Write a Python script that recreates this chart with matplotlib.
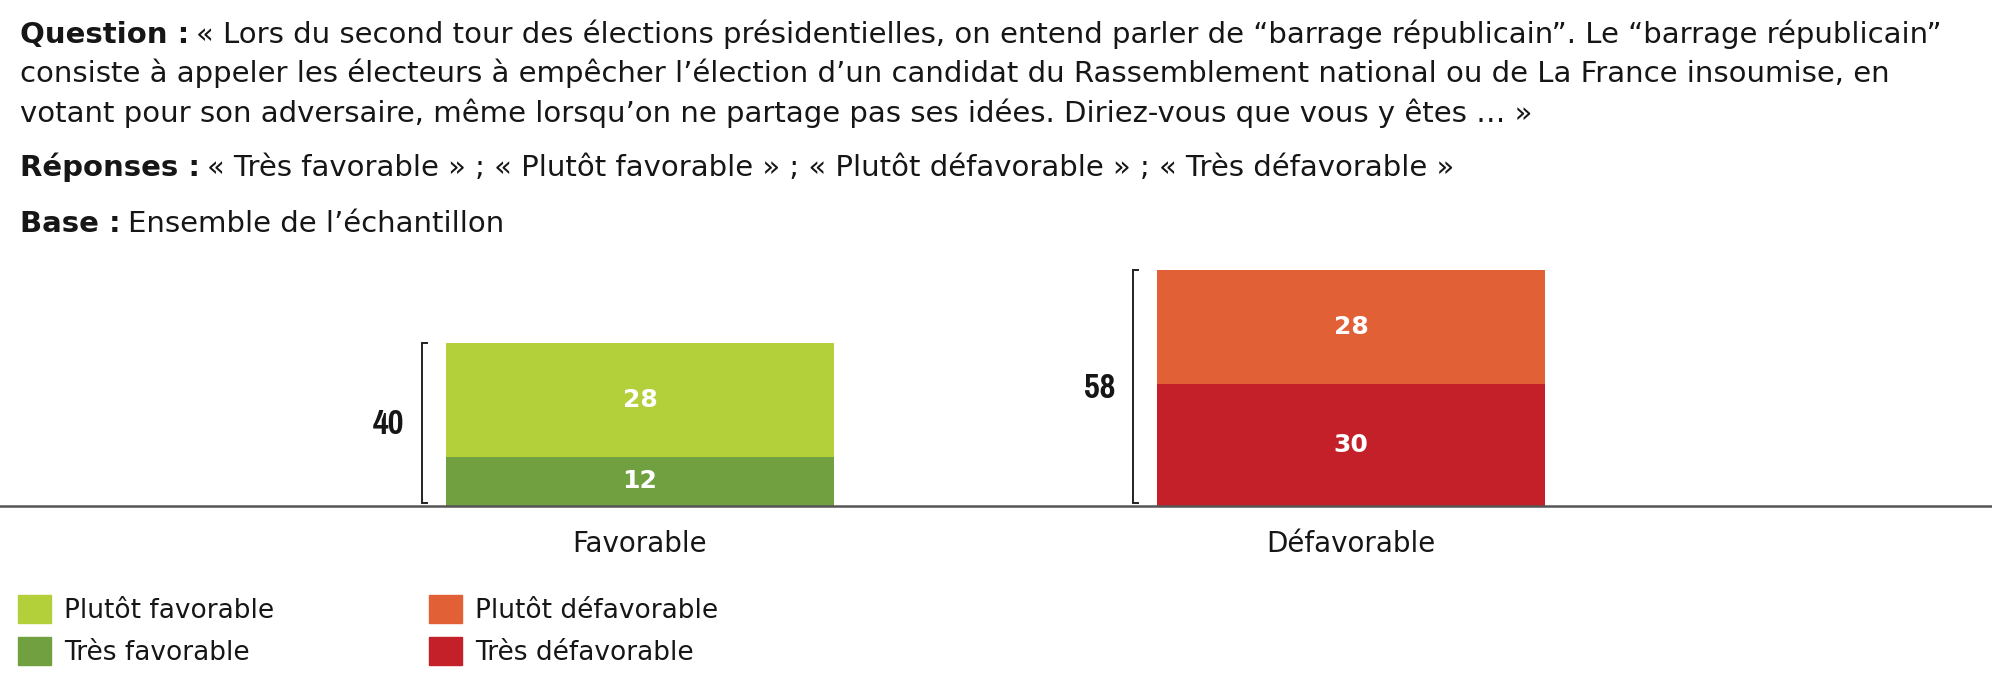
import matplotlib
matplotlib.use("Agg")
import matplotlib.pyplot as plt
from matplotlib.patches import Patch
from matplotlib import font_manager

# data
categories = ["Favorable", "Défavorable"]
tres = [12, 30]
plutot = [28, 28]
totals = [40, 58]
legend_left = ["Plutôt favorable", "Très favorable"]
legend_right = ["Plutôt défavorable", "Très défavorable"]

header = [
    ("Question :", "« Lors du second tour des élections présidentielles, on entend parler de “barrage républicain”. Le “barrage républicain”"),
    ("", "consiste à appeler les électeurs à empêcher l’élection d’un candidat du Rassemblement national ou de La France insoumise, en"),
    ("", "votant pour son adversaire, même lorsqu’on ne partage pas ses idées. Diriez-vous que vous y êtes … »"),
    ("Réponses :", "« Très favorable » ; « Plutôt favorable » ; « Plutôt défavorable » ; « Très défavorable »"),
    ("Base :", "Ensemble de l’échantillon"),
]
header_y = [43, 82, 122, 176, 232]   # baselines, px from top

c_tres = ["#70A040", "#C4202A"]
c_plut = ["#B3CF3A", "#E26036"]
TXT = "#161616"

W, H = 1992, 696
plt.rcParams["font.family"] = ["DejaVu Sans"]

# look for a narrow bold face for the totals
narrow_fp = None
files = [f.fname for f in font_manager.fontManager.ttflist]
for key in ["SansNarrow-Bold", "Narrow-Bold", "SansCondensed-Bold", "Condensed-Bold",
            "CondensedBold", "ExtraCondensedBold", "SemiCondensedBold"]:
    hits = sorted(f for f in files if key.lower() in f.lower() and "italic" not in f.lower()
                  and "mono" not in f.lower() and "serif" not in f.lower())
    if hits:
        narrow_fp = font_manager.FontProperties(fname=hits[0], size=27)
        break
if narrow_fp is None:
    narrow_fp = font_manager.FontProperties(family="DejaVu Sans", weight="bold", size=22)

fig = plt.figure(figsize=(W / 100, H / 100), dpi=100)
ax = fig.add_axes([0, 1 - 505.5 / H, 1, 244 / H])

# header lines (bold lead + regular rest)
FS = 21.0
for (b, rest), yy in zip(header, header_y):
    yf = 1 - yy / H
    if b:
        t = fig.text(20 / W, yf, b, fontsize=FS, fontweight="bold", va="baseline", color=TXT)
        ax.annotate(rest, xy=(1, yf), xycoords=(t, "figure fraction"),
                    xytext=(5, 0), textcoords="offset points",
                    fontsize=FS, va="baseline", color=TXT, annotation_clip=False)
    else:
        fig.text(20 / W, yf, rest, fontsize=FS, va="baseline", color=TXT)

# bars
x = [0, 1]
bw = 0.546
ax.bar(x, tres, bw, color=c_tres)
ax.bar(x, plutot, bw, bottom=tres, color=c_plut)
ax.set_xlim(-0.900, 1.9015)
ax.set_ylim(0, 60)

for i in range(2):
    ax.text(x[i], tres[i] / 2, str(tres[i]), ha="center", va="center",
            color="white", fontsize=18, fontweight="bold")
    ax.text(x[i], tres[i] + plutot[i] / 2, str(plutot[i]), ha="center", va="center",
            color="white", fontsize=18, fontweight="bold")
    # bracket
    bx = x[i] - bw / 2 - 0.033
    tk = 0.006
    ax.plot([bx + tk, bx, bx, bx + tk], [totals[i], totals[i], 0.6, 0.6],
            color="#222222", lw=1.4, solid_joinstyle="miter")
    ax.text(bx - 0.025, totals[i] / 2, str(totals[i]), ha="right", va="center",
            fontproperties=narrow_fp, color=TXT)

ax.set_xticks(x)
ax.set_xticklabels(categories, fontsize=20, color=TXT)
ax.tick_params(axis="x", length=0, pad=18)
ax.set_yticks([])
for s in ["top", "left", "right"]:
    ax.spines[s].set_visible(False)
ax.spines["bottom"].set_color("#555555")
ax.spines["bottom"].set_linewidth(1.8)

# legends
h_left = [Patch(color=c_plut[0]), Patch(color=c_tres[0])]
h_right = [Patch(color=c_plut[1]), Patch(color=c_tres[1])]
for hs, labs, lx in [(h_left, legend_left, 18), (h_right, legend_right, 429)]:
    fig.legend(hs, labs, loc="upper left", bbox_to_anchor=(lx / W, 1 - 595 / H),
               frameon=False, fontsize=19, borderpad=0, borderaxespad=0,
               handlelength=1.25, handleheight=1.25, handletextpad=0.5,
               labelspacing=0.5, labelcolor=TXT)

fig.savefig("out.png", dpi=100)
